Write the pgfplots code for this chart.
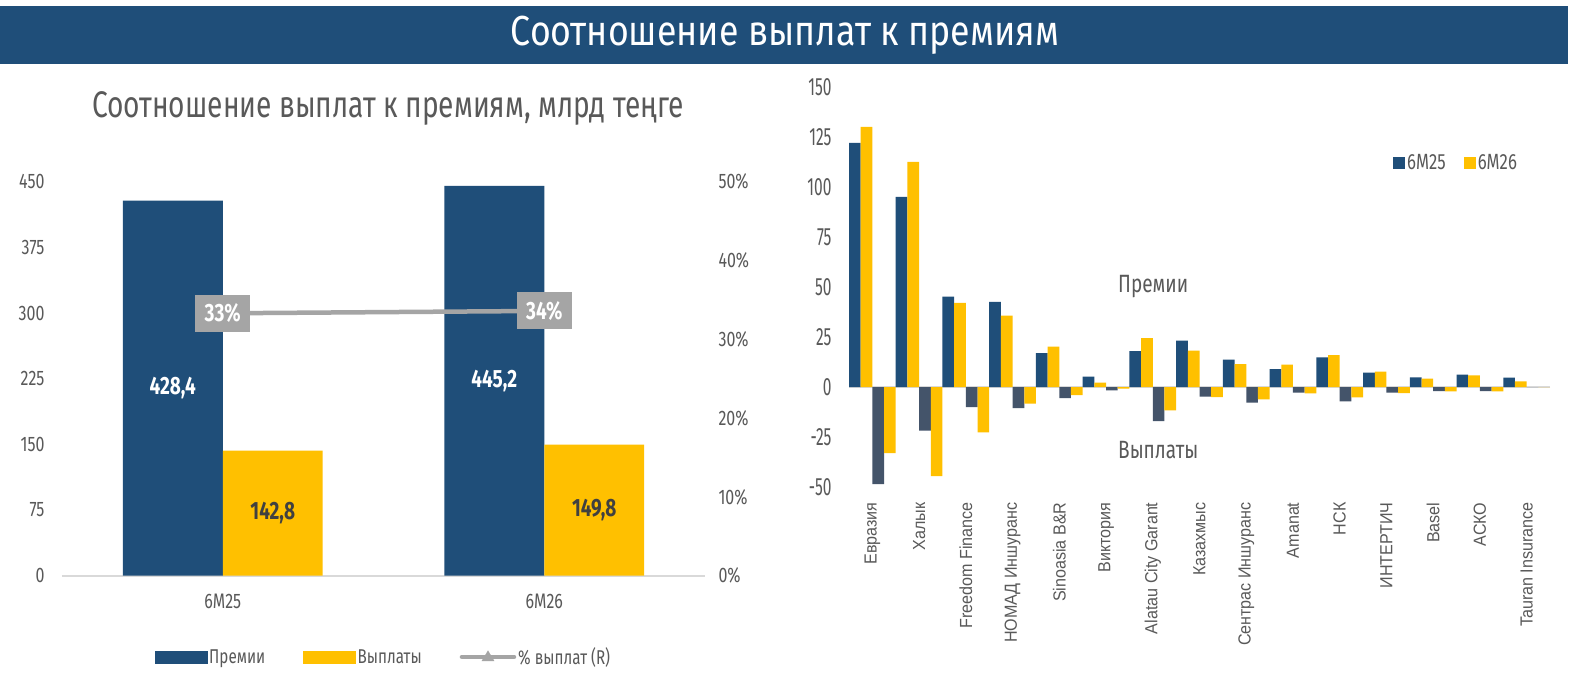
\documentclass[border=0pt]{standalone}
\usepackage{fontspec}
\setmainfont{Fira Sans}[FakeStretch=0.76]
\newfontfamily\narrowfont{Fira Sans}[FakeStretch=0.62]
\newfontfamily\bannerfont{Fira Sans}[FakeStretch=0.85]
\newfontfamily\catfont{Liberation Sans}[FakeStretch=0.92]
\usepackage{pgfplots}
\usepackage{pgfplotstable}
\pgfplotsset{compat=1.18}
\definecolor{navy}{HTML}{1F4E79}
\definecolor{gold}{HTML}{FFC000}
\definecolor{slate}{HTML}{44546A}
\definecolor{lgray}{HTML}{A5A5A5}
\definecolor{tgray}{HTML}{595959}
\definecolor{dgray}{HTML}{404040}
\definecolor{zgray}{HTML}{D9D9D9}

\pgfplotstableread{
x P25 P26 V25 V26
0 122 130 -48.5 -33
1 95 112.5 -21.8 -44.5
2 45.2 42 -10 -22.7
3 42.5 35.7 -10.5 -8.3
4 17 20.2 -5.5 -4
5 5.2 2.2 -1.7 -0.8
6 18 24.5 -17 -11.7
7 23.2 18.2 -4.8 -5
8 13.7 11.5 -7.8 -6.2
9 9 11.2 -2.8 -3.2
10 14.8 16 -7.2 -5.2
11 7.2 7.7 -2.8 -3
12 4.8 4.2 -2 -2.2
13 6.2 5.8 -2 -2.2
14 4.7 2.8 0 0
}\companies

\pgfplotstableread{
x prem pay
0 428.4 142.8
1 445.2 149.8
}\totals

\begin{document}
\begin{tikzpicture}[x=1pt,y=1pt]
\path[use as bounding box] (0,0) rectangle (1570,675);
\fill[white] (0,0) rectangle (1570,675);
\fill[navy] (0,611) rectangle (1568,669);
\node[white, font=\bannerfont\fontsize{42}{44}\selectfont] at (785,640) {Соотношение выплат к премиям};
\node[tgray, font=\fontsize{37}{40}\selectfont] at (388,567) {Соотношение выплат к премиям, млрд теңге};

% ---------- left chart, primary axis ----------
\begin{axis}[
  at={(62pt,99.3pt)}, anchor=south west, scale only axis,
  width=643pt, height=394pt,
  xmin=-0.5, xmax=1.5, ymin=0, ymax=450,
  ytick={0,75,150,225,300,375,450},
  yticklabels={0,75,150,225,300,375,450},
  xtick={0,1}, xticklabels={6M25,6M26},
  axis line style={draw=none}, major tick length=0pt,
  tick label style={font=\fontsize{21}{23}\selectfont, text=tgray},
  yticklabel style={xshift=-14pt},
  xticklabel style={yshift=-15pt},
  extra y ticks={0}, extra y tick labels={},
  extra y tick style={grid=major, major grid style={zgray, line width=2pt}},
  clip=false,
]
\addplot[ybar, bar width=0.311, bar shift=-0.1555, fill=navy, draw=none] table[x=x, y=prem] {\totals};
\addplot[ybar, bar width=0.311, bar shift=0.1555, fill=gold, draw=none] table[x=x, y=pay] {\totals};
\addplot[draw=none, mark=none, nodes near coords, point meta=explicit symbolic,
  nodes near coords style={anchor=center, text=white, font=\bfseries\fontsize{25}{27}\selectfont}]
  table[meta=lab] {
x y lab
-0.1555 214.2 428,4
0.8445 222.6 445,2
};
\addplot[draw=none, mark=none, nodes near coords, point meta=explicit symbolic,
  nodes near coords style={anchor=center, text=dgray, font=\bfseries\fontsize{25}{27}\selectfont}]
  table[meta=lab] {
x y lab
0.1555 71.4 142,8
1.1555 74.9 149,8
};
\end{axis}

% ---------- left chart, secondary axis (%) ----------
\begin{axis}[
  at={(62pt,99.3pt)}, anchor=south west, scale only axis,
  width=643pt, height=394pt,
  xmin=-0.5, xmax=1.5, ymin=0, ymax=50,
  ytick={0,10,20,30,40,50},
  yticklabels={0\%,10\%,20\%,30\%,40\%,50\%},
  yticklabel pos=right,
  xtick=\empty,
  axis line style={draw=none}, major tick length=0pt,
  tick label style={font=\fontsize{21}{23}\selectfont, text=tgray},
  yticklabel style={xshift=10pt},
  clip=false,
  legend columns=3,
  legend style={at={(0.5,-0.206)}, anchor=center, draw=none, fill=none,
    font=\fontsize{20}{22}\selectfont, text=tgray,
    /tikz/every even column/.append style={column sep=36pt}},
]
\addlegendimage{legend image code/.code={\fill[navy] (0pt,-6pt) rectangle (52pt,6pt);}}
\addlegendentry{Премии}
\addlegendimage{legend image code/.code={\fill[gold] (0pt,-6pt) rectangle (52pt,6pt);}}
\addlegendentry{Выплаты}
\addlegendimage{legend image code/.code={\draw[lgray, line width=4.5pt, line cap=round] (2pt,0pt) -- (54pt,0pt); \fill[lgray] (28pt,6pt) -- (22pt,-4pt) -- (34pt,-4pt) -- cycle;}}
\addlegendentry{\% выплат (R)}
\addplot[lgray, line width=4.5pt, mark=none, forget plot] coordinates {(0,33.3) (1,33.6)};
\addplot[draw=none, mark=none, forget plot, nodes near coords, point meta=explicit symbolic,
  nodes near coords style={anchor=center, fill=lgray, text=white, inner sep=0pt,
    minimum width=55pt, minimum height=37pt, font=\bfseries\fontsize{25}{27}\selectfont}]
  coordinates {(0,33.3)[33\%] (1,33.6)[34\%]};
\end{axis}

% ---------- right chart ----------
\begin{axis}[
  at={(849pt,188pt)}, anchor=south west, scale only axis,
  width=701pt, height=400pt,
  xmin=-0.5, xmax=14.5, ymin=-50, ymax=150,
  ytick={-50,-25,0,25,50,75,100,125,150},
  yticklabels={-50,-25,0,25,50,75,100,125,150},
  xtick={0,...,14},
  xticklabels={Евразия,Халык,Freedom Finance,НОМАД Иншуранс,Sinoasia B\&R,Виктория,Alatau City Garant,Казахмыс,Сентрас Иншуранс,Amanat,НСК,ИНТЕРТИЧ,Basel,АСКО,Tauran Insurance},
  xticklabel style={rotate=90, anchor=east, font=\catfont\fontsize{17.5}{19}\selectfont, text=tgray},
  xticklabel shift=12pt,
  yticklabel style={font=\narrowfont\fontsize{25}{27}\selectfont, text=tgray, xshift=-14pt},
  axis line style={draw=none}, major tick length=0pt,
  extra y ticks={0}, extra y tick labels={},
  extra y tick style={grid=major, major grid style={zgray, line width=2.5pt}},
  clip=false,
  legend columns=2,
  legend style={at={(0.866,0.81)}, anchor=center, draw=none, fill=none,
    font=\fontsize{22}{24}\selectfont, text=tgray,
    /tikz/every even column/.append style={column sep=16pt}},
]
\addplot[ybar, bar width=0.25, bar shift=-0.375, fill=navy, draw=none,
  legend image code/.code={\fill[navy] (0pt,-6pt) rectangle (12pt,6pt);}]
  table[x=x, y=P25] {\companies};
\addlegendentry{6M25}
\addplot[ybar, bar width=0.25, bar shift=-0.125, fill=gold, draw=none,
  legend image code/.code={\fill[gold] (0pt,-6pt) rectangle (12pt,6pt);}]
  table[x=x, y=P26] {\companies};
\addlegendentry{6M26}
\addplot[ybar, bar width=0.25, bar shift=0.125, fill=slate, draw=none, forget plot]
  table[x=x, y=V25] {\companies};
\addplot[ybar, bar width=0.25, bar shift=0.375, fill=gold, draw=none, forget plot]
  table[x=x, y=V26] {\companies};
\node[anchor=west, text=tgray, font=\fontsize{25}{27}\selectfont] at (rel axis cs:0.379,0.5) {Премии};
\node[anchor=west, text=tgray, font=\fontsize{25}{27}\selectfont] at (rel axis cs:0.379,0.0925) {Выплаты};
\end{axis}
\end{tikzpicture}
\end{document}
